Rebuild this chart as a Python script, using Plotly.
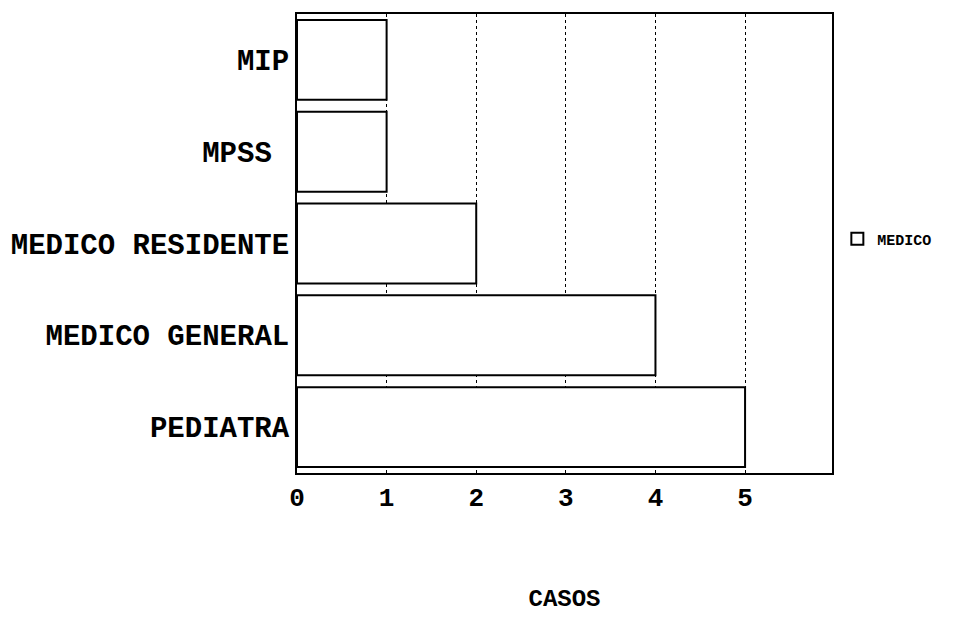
import plotly.graph_objects as go

categories = ["PEDIATRA", "MEDICO GENERAL", "MEDICO RESIDENTE", "MPSS ", "MIP"]
values = [5, 4, 2, 1, 1]
series_name = "MEDICO"
x_ticks = [0, 1, 2, 3, 4, 5]

FONT = "Liberation Mono, Courier New, monospace"

fig = go.Figure()
fig.add_trace(go.Bar(
    y=categories, x=values, orientation="h", name=series_name,
    marker=dict(color="white", line=dict(color="black", width=2)),
    showlegend=True,
))

fig.update_layout(
    width=970, height=617,
    paper_bgcolor="white", plot_bgcolor="white",
    margin=dict(l=289, r=146, t=6, b=152),
    bargap=0.13,
    font=dict(family=FONT, color="black"),
    showlegend=True,
    legend=dict(x=1.01, y=0.51, xanchor="left", yanchor="middle",
                font=dict(family=FONT, size=15, weight="bold"),
                itemsizing="constant", itemwidth=30),
    xaxis=dict(
        range=[0, 5.97], tickvals=x_ticks, ticktext=[str(v) for v in x_ticks],
        showgrid=True, gridcolor="black", griddash="dot", gridwidth=1,
        zeroline=False, showline=True, linecolor="black", linewidth=2, mirror=True,
        tickfont=dict(family=FONT, size=26, weight="bold"),
        ticks="", ticklen=0, automargin=False,
        title=dict(text="CASOS", font=dict(family=FONT, size=24, weight="bold"), standoff=76),
    ),
    yaxis=dict(
        categoryorder="array", categoryarray=categories,
        showgrid=False, zeroline=False, showline=True, linecolor="black", linewidth=2, mirror=True,
        tickfont=dict(family=FONT, size=29, weight="bold"),
        ticks="", ticklabelstandoff=0, automargin=False,
    ),
)

fig.write_html("out.html")
